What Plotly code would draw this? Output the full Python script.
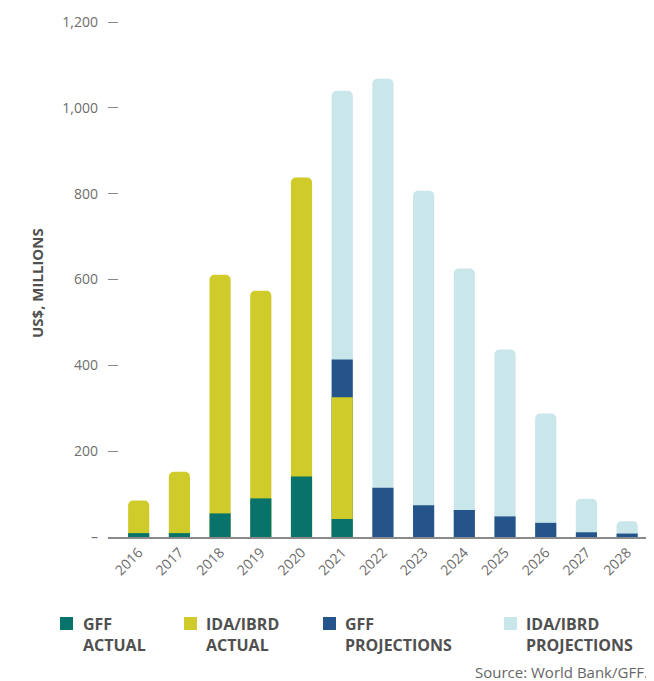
import plotly.graph_objects as go

# data (US$ millions)
years = ['2016', '2017', '2018', '2019', '2020', '2021', '2022',
         '2023', '2024', '2025', '2026', '2027', '2028']
gff_actual = [9, 9, 55, 90, 141, 42, None, None, None, None, None, None, None]
ida_actual = [76, 143, 556, 484, 697, 284, None, None, None, None, None, None, None]
gff_proj = [None, None, None, None, None, 88, 115, 74, 63, 48, 33, 11, 8]
ida_proj = [None, None, None, None, None, 626, 953, 733, 563, 389, 255, 78, 29]

y_ticks = [0, 200, 400, 600, 800, 1000, 1200]
y_labels = ['–', '200', '400', '600', '800', '1,000', '1,200']

series = [
    (('GFF', 'ACTUAL'), gff_actual, '#08736A'),
    (('IDA/IBRD', 'ACTUAL'), ida_actual, '#CFCB2A'),
    (('GFF', 'PROJECTIONS'), gff_proj, '#245489'),
    (('IDA/IBRD', 'PROJECTIONS'), ida_proj, '#C9E6EA'),
]

# each segment is drawn as its own bar from zero (rounded tops), so stack by hand
running = [0] * len(years)
stacked = []
for name, vals, color in series:
    tops = []
    for i, v in enumerate(vals):
        if v is None:
            tops.append(None)
        else:
            running[i] += v
            tops.append(running[i])
    stacked.append((name, tops, color))

x_idx = list(range(len(years)))

fig = go.Figure()
# draw back to front: biggest cumulative first
for name, tops, color in reversed(stacked):
    fig.add_trace(go.Bar(
        x=x_idx, y=tops, name=' '.join(name), showlegend=False,
        marker=dict(color=color, cornerradius=5, line=dict(width=0)),
        width=0.52,
    ))

font_family = 'Open Sans, Lato, sans-serif'

# page body has an 8px margin, so the figure is sized to fit inside the window
W, H = 646, 673
L, T, B = 100, 12, 144
PW, PH = W - L, H - T - B


def px(sx):
    # window pixel -> paper x
    return (sx - 8 - L) / PW


def py(sy):
    # window pixel -> paper y
    return (H - B - (sy - 8)) / PH


fig.update_layout(
    width=W, height=H,
    barmode='overlay',
    plot_bgcolor='white', paper_bgcolor='white',
    margin=dict(l=L, r=0, t=T, b=B),
    font=dict(family=font_family, color='#666'),
    xaxis=dict(
        tickmode='array', tickvals=x_idx, ticktext=years,
        range=[-0.754, 12.66], tickangle=-45,
        showgrid=False, showline=True, linecolor='#8a8a8a', linewidth=1.5,
        ticks='', tickfont=dict(size=14, color='#6a6a6a'),
        zeroline=False,
    ),
    yaxis=dict(
        range=[0, 1205], tickvals=y_ticks, ticktext=y_labels,
        showgrid=False, showline=False, zeroline=False,
        ticks='inside', ticklen=10, tickcolor='#888', tickwidth=1,
        ticklabelstandoff=9,
        tickfont=dict(size=14, color='#6e6e6e'),
    ),
    showlegend=False,
)

# hand-made legend: swatch + two-line bold label
sw_x = [60, 184, 323, 504]
txt_x = [81, 204, 343, 524]
for (name, tops, color), sx, tx in zip(stacked, sw_x, txt_x):
    fig.add_shape(type='rect', xref='paper', yref='paper',
                  x0=px(sx), x1=px(sx + 13), y0=py(630), y1=py(617),
                  fillcolor=color, line=dict(width=0))
    for line, sy in zip(name, [624, 645]):
        fig.add_annotation(text='<b>%s</b>' % line, xref='paper', yref='paper',
                           x=px(tx), y=py(sy), xanchor='left', yanchor='middle',
                           showarrow=False,
                           font=dict(size=16, color='#505050'))

fig.add_annotation(
    text='<b>US$, MILLIONS</b>', xref='paper', yref='paper',
    x=px(37), y=py(283), xanchor='center', yanchor='middle',
    textangle=-90, showarrow=False,
    font=dict(size=15, color='#505050'),
)

fig.add_annotation(
    text='Source: World Bank/GFF.', xref='paper', yref='paper',
    x=px(650), y=py(672), xanchor='right', yanchor='middle', showarrow=False,
    font=dict(size=15, color='#666'),
)

fig.write_html('out.html')
